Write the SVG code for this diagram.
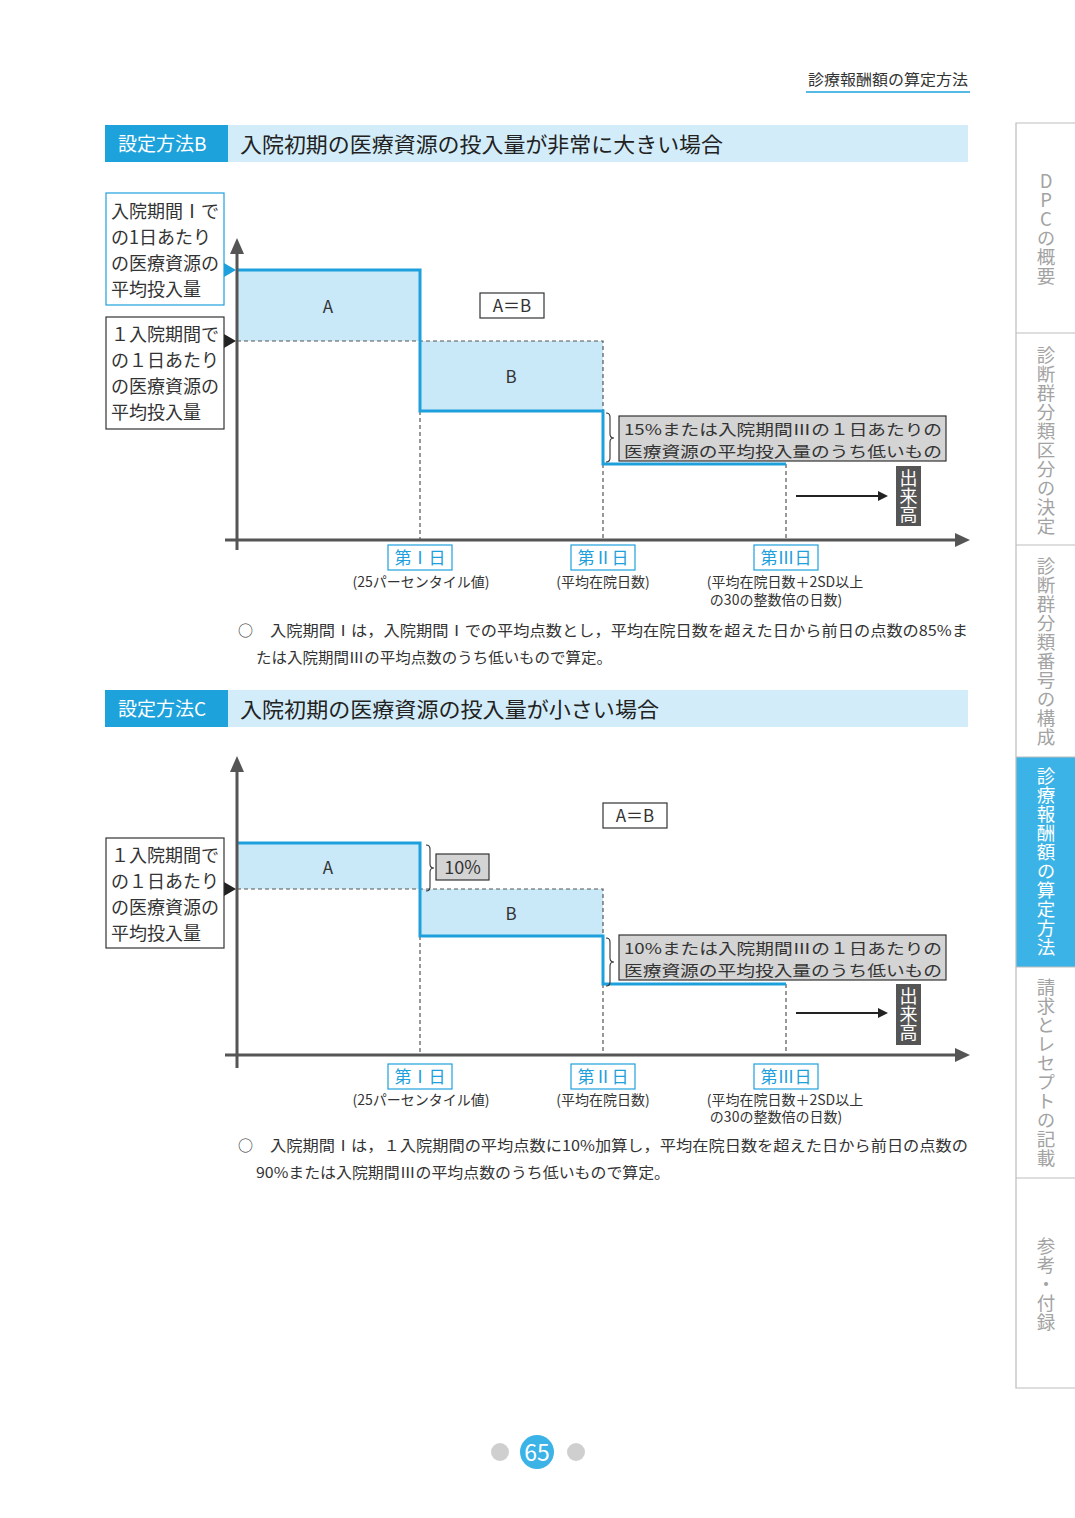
<svg xmlns="http://www.w3.org/2000/svg" width="1075" height="1518" viewBox="0 0 1075 1518">
<defs>
<style>
text{font-family:"Noto Sans CJK JP","Noto Sans",sans-serif;fill:#333;}
.ban{fill:#d2edf9;}
.banl{fill:#1da2dc;}
.bant{fill:#fff;font-size:19px;}
.title{font-size:21px;fill:#222;}
.axis{stroke:#555;stroke-width:3;fill:none;}
.axh{fill:#555;}
.area{fill:#c9e8f8;}
.step{stroke:#1ea0dc;stroke-width:3;fill:none;}
.dash{stroke:#555;stroke-width:1.2;stroke-dasharray:4 3;fill:none;}
.box{fill:#fff;stroke:#333;stroke-width:1.2;}
.bbox{fill:#fff;stroke:#1ea0dc;stroke-width:1.2;}
.gbox{fill:#d4d4d4;stroke:#333;stroke-width:1.2;}
.lt{font-size:18px;}
.ab{font-size:17px;text-anchor:middle;}
.xl{font-size:17px;fill:#1ea0dc;text-anchor:middle;}
.xs{font-size:14px;text-anchor:middle;}
.note{font-size:15px;}
.gl{font-size:15.2px;}
.brace{stroke:#333;stroke-width:1.1;fill:none;}
.arr{stroke:#222;stroke-width:2;fill:none;}
.tab{font-size:18.5px;fill:#a3a3a3;writing-mode:vertical-rl;text-orientation:upright;letter-spacing:0.5px;text-anchor:middle;}
</style>
<marker id="ah" markerWidth="10" markerHeight="10" refX="8" refY="5" orient="auto" markerUnits="userSpaceOnUse"><path d="M0,0 L10,5 L0,10 Z" fill="#222"/></marker>
</defs>
<rect width="1075" height="1518" fill="#fff"/>

<!-- header -->
<g id="header">
<text x="808" y="85" font-size="15" textLength="160" lengthAdjust="spacingAndGlyphs">診療報酬額の算定方法</text>
<line x1="806" y1="92" x2="970" y2="92" stroke="#1ea0dc" stroke-width="1.5"/>
</g>

<!-- right tabs -->
<g id="tabs">
<rect x="1016" y="757" width="59" height="210" fill="#3cb3e6"/>
<path d="M1075,123 H1016 V1388 H1075 M1016,333 H1075 M1016,545 H1075 M1016,757 H1075 M1016,967 H1075 M1016,1178 H1075" stroke="#bdbdbd" stroke-width="1.2" fill="none"/>
<text class="tab" x="1046" y="229">DPCの概要</text>
<text class="tab" x="1046" y="441">診断群分類区分の決定</text>
<text class="tab" x="1046" y="652">診断群分類番号の構成</text>
<text class="tab" x="1046" y="862" style="fill:#fff">診療報酬額の算定方法</text>
<text class="tab" x="1046" y="1073">請求とレセプトの記載</text>
<text class="tab" x="1046" y="1284">参考・付録</text>
</g>

<!-- Section B -->
<g id="bannerB">
<rect class="ban" x="105" y="125" width="863" height="37"/>
<rect class="banl" x="105" y="125" width="123" height="37"/>
<text class="bant" x="118" y="151">設定方法B</text>
<text class="title" x="240" y="152" textLength="483" lengthAdjust="spacingAndGlyphs">入院初期の医療資源の投入量が非常に大きい場合</text>
</g>

<g id="areasB">
<rect class="area" x="237" y="270" width="183" height="71"/>
<rect class="area" x="420" y="341" width="183" height="70"/>
<text class="ab" x="328" y="313">A</text>
<text class="ab" x="511" y="383">B</text>
</g>

<g id="connectorsB">
<path class="dash" d="M237,341 H603 V411 M420,411 V540 M603,464 V540 M786,464 V540"/>
<path class="step" d="M237,270 H420 V411 H603 V464 H786"/>
<line class="axis" x1="237" y1="252" x2="237" y2="550"/>
<polygon class="axh" points="237,238 230,254 244,254"/>
<line class="axis" x1="225" y1="540" x2="958" y2="540"/>
<polygon class="axh" points="970,540 955,533 955,547"/>
<line class="arr" x1="796" y1="496" x2="886" y2="496" marker-end="url(#ah)"/>
<path class="brace" d="M606,413 q4,0 4,4 v17 q0,4 4,4 q-4,0 -4,4 v16 q0,4 -4,4"/>
<polygon points="236,270 224,263 224,277" fill="#1ea0dc"/>
<polygon points="236,341 224,334 224,348" fill="#222"/>
</g>

<g id="labelI_B">
<rect class="bbox" x="106" y="193" width="118" height="112"/>
<text class="lt" x="111" y="218">入院期間Ⅰで</text>
<text class="lt" x="111" y="244">の1日あたり</text>
<text class="lt" x="111" y="270">の医療資源の</text>
<text class="lt" x="111" y="296">平均投入量</text>
</g>
<g id="labelAvg_B">
<rect class="box" x="106" y="317" width="118" height="112"/>
<text class="lt" x="111" y="341">１入院期間で</text>
<text class="lt" x="111" y="367">の１日あたり</text>
<text class="lt" x="111" y="393">の医療資源の</text>
<text class="lt" x="111" y="419">平均投入量</text>
</g>
<g id="aeqbB">
<rect class="box" x="480" y="293" width="64" height="25"/>
<text class="ab" x="512" y="312">A＝B</text>
</g>
<g id="lowB">
<rect class="gbox" x="619" y="416" width="327" height="45"/>
<text class="gl" x="624" y="435" textLength="318" lengthAdjust="spacingAndGlyphs">15%または入院期間Ⅲの１日あたりの</text>
<text class="gl" x="624" y="457" textLength="318" lengthAdjust="spacingAndGlyphs">医療資源の平均投入量のうち低いもの</text>
</g>
<g id="dekidakaB">
<rect x="896" y="466" width="25" height="60" fill="#555"/>
<text x="908.5" y="496" font-size="18" style="fill:#fff;writing-mode:vertical-rl;text-anchor:middle;">出来高</text>
</g>
<g id="xlabelsB">
<rect class="bbox" x="388" y="545" width="64" height="25"/>
<text class="xl" x="420" y="564">第Ⅰ日</text>
<text class="xs" x="421" y="587">(25パーセンタイル値)</text>
<rect class="bbox" x="571" y="545" width="64" height="25"/>
<text class="xl" x="603" y="564">第Ⅱ日</text>
<text class="xs" x="603" y="587">(平均在院日数)</text>
<rect class="bbox" x="754" y="545" width="64" height="25"/>
<text class="xl" x="786" y="564">第Ⅲ日</text>
<text class="xs" x="785" y="587">(平均在院日数＋2SD以上</text>
<text class="xs" x="776" y="605">の30の整数倍の日数)</text>
</g>
<g id="noteB">
<text class="note" x="238" y="636">○</text>
<text class="note" x="270" y="636" textLength="698" lengthAdjust="spacingAndGlyphs">入院期間Ⅰは，入院期間Ⅰでの平均点数とし，平均在院日数を超えた日から前日の点数の85%ま</text>
<text class="note" x="256" y="663" textLength="356" lengthAdjust="spacingAndGlyphs">たは入院期間Ⅲの平均点数のうち低いもので算定。</text>
</g>

<!-- Section C -->
<g id="bannerC">
<rect class="ban" x="105" y="690" width="863" height="37"/>
<rect class="banl" x="105" y="690" width="123" height="37"/>
<text class="bant" x="118" y="716">設定方法C</text>
<text class="title" x="240" y="717" textLength="419" lengthAdjust="spacingAndGlyphs">入院初期の医療資源の投入量が小さい場合</text>
</g>

<g id="areasC">
<rect class="area" x="237" y="843" width="183" height="46"/>
<rect class="area" x="420" y="889" width="183" height="47"/>
<text class="ab" x="328" y="874">A</text>
<text class="ab" x="511" y="920">B</text>
</g>

<g id="connectorsC">
<path class="dash" d="M237,889 H603 V936 M420,936 V1055 M603,984 V1055 M786,984 V1055"/>
<path class="step" d="M237,843 H420 V936 H603 V984 H786"/>
<line class="axis" x1="237" y1="770" x2="237" y2="1068"/>
<polygon class="axh" points="237,756 230,772 244,772"/>
<line class="axis" x1="225" y1="1055" x2="958" y2="1055"/>
<polygon class="axh" points="970,1055 955,1048 955,1062"/>
<line class="arr" x1="796" y1="1013" x2="886" y2="1013" marker-end="url(#ah)"/>
<path class="brace" d="M426,845 q4,0 4,4 v15 q0,4 4,4 q-4,0 -4,4 v15 q0,4 -4,4"/>
<path class="brace" d="M606,938 q4,0 4,4 v16 q0,4 4,4 q-4,0 -4,4 v16 q0,4 -4,4"/>
<polygon points="236,889 224,882 224,896" fill="#222"/>
</g>

<g id="labelAvg_C">
<rect class="box" x="106" y="838" width="118" height="110"/>
<text class="lt" x="111" y="862">１入院期間で</text>
<text class="lt" x="111" y="888">の１日あたり</text>
<text class="lt" x="111" y="914">の医療資源の</text>
<text class="lt" x="111" y="940">平均投入量</text>
</g>
<g id="aeqbC">
<rect class="box" x="603" y="803" width="64" height="25"/>
<text class="ab" x="635" y="822">A＝B</text>
</g>
<g id="tenpct">
<rect class="gbox" x="436" y="854" width="53" height="26"/>
<text x="462.5" y="874" font-size="18" text-anchor="middle">10%</text>
</g>
<g id="lowC">
<rect class="gbox" x="619" y="935" width="327" height="45"/>
<text class="gl" x="624" y="954" textLength="318" lengthAdjust="spacingAndGlyphs">10%または入院期間Ⅲの１日あたりの</text>
<text class="gl" x="624" y="976" textLength="318" lengthAdjust="spacingAndGlyphs">医療資源の平均投入量のうち低いもの</text>
</g>
<g id="dekidakaC">
<rect x="896" y="984" width="25" height="61" fill="#555"/>
<text x="908.5" y="1014" font-size="18" style="fill:#fff;writing-mode:vertical-rl;text-anchor:middle;">出来高</text>
</g>
<g id="xlabelsC">
<rect class="bbox" x="388" y="1064" width="64" height="25"/>
<text class="xl" x="420" y="1083">第Ⅰ日</text>
<text class="xs" x="421" y="1105">(25パーセンタイル値)</text>
<rect class="bbox" x="571" y="1064" width="64" height="25"/>
<text class="xl" x="603" y="1083">第Ⅱ日</text>
<text class="xs" x="603" y="1105">(平均在院日数)</text>
<rect class="bbox" x="754" y="1064" width="64" height="25"/>
<text class="xl" x="786" y="1083">第Ⅲ日</text>
<text class="xs" x="785" y="1105">(平均在院日数＋2SD以上</text>
<text class="xs" x="776" y="1122">の30の整数倍の日数)</text>
</g>
<g id="noteC">
<text class="note" x="238" y="1151">○</text>
<text class="note" x="270" y="1151" textLength="698" lengthAdjust="spacingAndGlyphs">入院期間Ⅰは，１入院期間の平均点数に10%加算し，平均在院日数を超えた日から前日の点数の</text>
<text class="note" x="256" y="1178" textLength="414" lengthAdjust="spacingAndGlyphs">90%または入院期間Ⅲの平均点数のうち低いもので算定。</text>
</g>

<g id="pagenum">
<circle cx="500" cy="1452" r="9" fill="#cfcfcf"/>
<circle cx="576" cy="1452" r="9" fill="#cfcfcf"/>
<circle cx="537" cy="1452" r="17" fill="#3cb3e6"/>
<text x="537" y="1461" font-size="23" text-anchor="middle" style="fill:#fff">65</text>
</g>
</svg>
